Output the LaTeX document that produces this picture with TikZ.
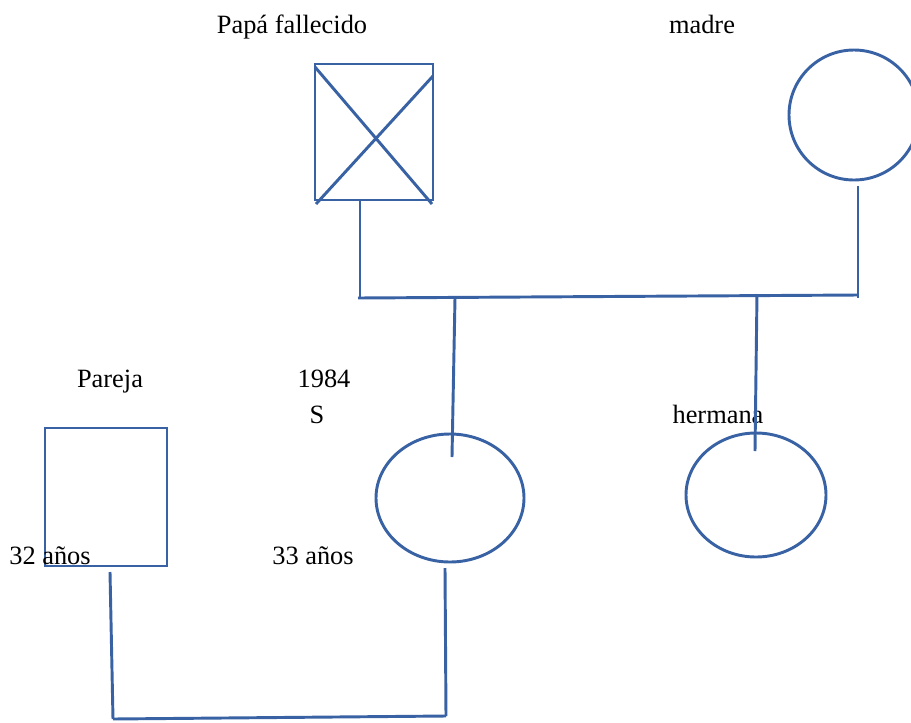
\documentclass[tikz,border=0pt]{standalone}
\usepackage{fontspec}
\setmainfont{Liberation Serif}
\usetikzlibrary{shapes.geometric}
\definecolor{lineblue}{RGB}{56,98,163}
\begin{document}
\begin{tikzpicture}[x=0.75pt,y=-0.75pt,
  line/.style={draw=lineblue,line width=2.2pt},
  malebox/.style={line,rectangle,inner sep=0pt},
  femaleshape/.style={line,ellipse,inner sep=0pt},
  lbl/.style={font=\fontsize{19.8}{22}\selectfont,inner sep=0pt,anchor=base}]
\useasboundingbox (0,0) rectangle (911,722);
\clip (0,0) rectangle (911,722);

% labels
\node[lbl] (tpapa) at (292,33) {Papá fallecido};
\node[lbl] (tmadre) at (702,33) {madre};
\node[lbl] (tpareja) at (110,387) {Pareja};
\node[lbl] (tyear) at (324,387) {1984};
\node[lbl] (ts) at (317,423) {S};
\node[lbl] (therm) at (718,423) {hermana};

% father (deceased)
\node[malebox,minimum width=118pt*0.75,minimum height=136pt*0.75] (papa) at (374,132) {};
\draw[line] (315,67) -- (432,204);
\draw[line] (316,204) -- (433,76);

% mother
\node[femaleshape,minimum width=130pt*0.75,minimum height=130pt*0.75] (madre) at (854,115) {};

% partner
\node[malebox,minimum width=122pt*0.75,minimum height=138pt*0.75] (pareja) at (106,497) {};

% index person and sister
\node[femaleshape,minimum width=148pt*0.75,minimum height=128pt*0.75] (ego) at (450,498) {};
\node[femaleshape,minimum width=140pt*0.75,minimum height=124pt*0.75] (hermana) at (756,495) {};

\node[lbl] (t32) at (50,564) {32 años};
\node[lbl] (t33) at (313,564) {33 años};

% parents' union
\coordinate (pa) at (360,200);
\coordinate (pb) at (360,298);
\coordinate (ma) at (858,186);
\coordinate (mb) at (858,298);
\coordinate (ul) at (358,298);
\coordinate (ur) at (858,295);
\draw[line] (pa) -- (pb);
\draw[line] (ma) -- (mb);
\draw[line] (ul) -- (ur);

% children lines
\coordinate (c1a) at (455,298);
\coordinate (c1b) at (452,457);
\coordinate (c2a) at (757,294);
\coordinate (c2b) at (755,451);
\draw[line] (c1a) -- (c1b);
\draw[line] (c2a) -- (c2b);

% couple link
\coordinate (pr1) at (110,572);
\coordinate (pr2) at (113,719);
\coordinate (eg1) at (445,568);
\coordinate (eg2) at (446,716);
\draw[line] (pr1) -- (pr2);
\draw[line] (eg1) -- (eg2);
\draw[line] (pr2) -- (eg2);
\end{tikzpicture}
\end{document}
